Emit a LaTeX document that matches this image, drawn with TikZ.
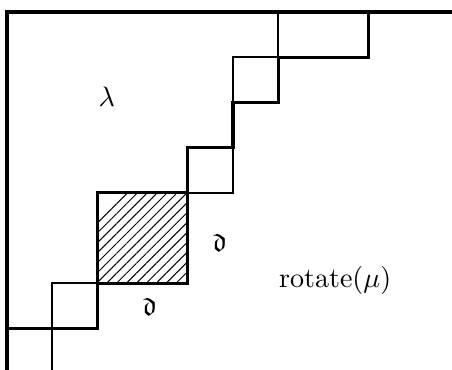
\documentclass[tikz,border=0pt]{standalone}
\usepackage{amsmath}
\usepackage{amssymb}
\usetikzlibrary{patterns.meta}
\tikzset{kalin/.style={line width=1.1pt}, ince/.style={line width=0.7pt}}

\begin{document}
\begin{tikzpicture}[x=0.566cm, y=-0.566cm, every node/.style={font=\normalsize}]
\useasboundingbox (-0.155,-0.265) rectangle (9.845,7.92);
% cerceve
\draw[kalin] (9.845,0) -- (0,0) -- (0,7.92);
% taranmis kutu
\fill[pattern={Lines[angle=45,distance=2.5pt,line width=0.35pt]}] (2.65,4) -- (4,4) -- (4,6) -- (2,6) -- (2,4.6) -- cycle;
% merdiven
\draw[kalin] (0,7) -- (2,7) -- (2,4) -- (4,4) -- (4,3) -- (5,3) -- (5,2) -- (6,2) -- (6,1) -- (8,1) -- (8,0);
\draw[kalin] (2,6) -- (4,6) -- (4,4);
\draw[ince] (1,7.92) -- (1,6) -- (2,6);
\draw[ince] (4,4) -- (5,4) -- (5,3);
\draw[ince] (5,2) -- (5,1) -- (6,1);
\draw[ince] (6,1) -- (6,0);
% etiketler
\node (lambda) at (2.21,1.88) {$\lambda$};
\node (rot) at (7.26,5.93) {rotate$(\mu)$};
\node (dsag) at (4.71,5.11) {$\mathfrak{d}$};
\node (dalt) at (3.16,6.53) {$\mathfrak{d}$};
\end{tikzpicture}
\end{document}
